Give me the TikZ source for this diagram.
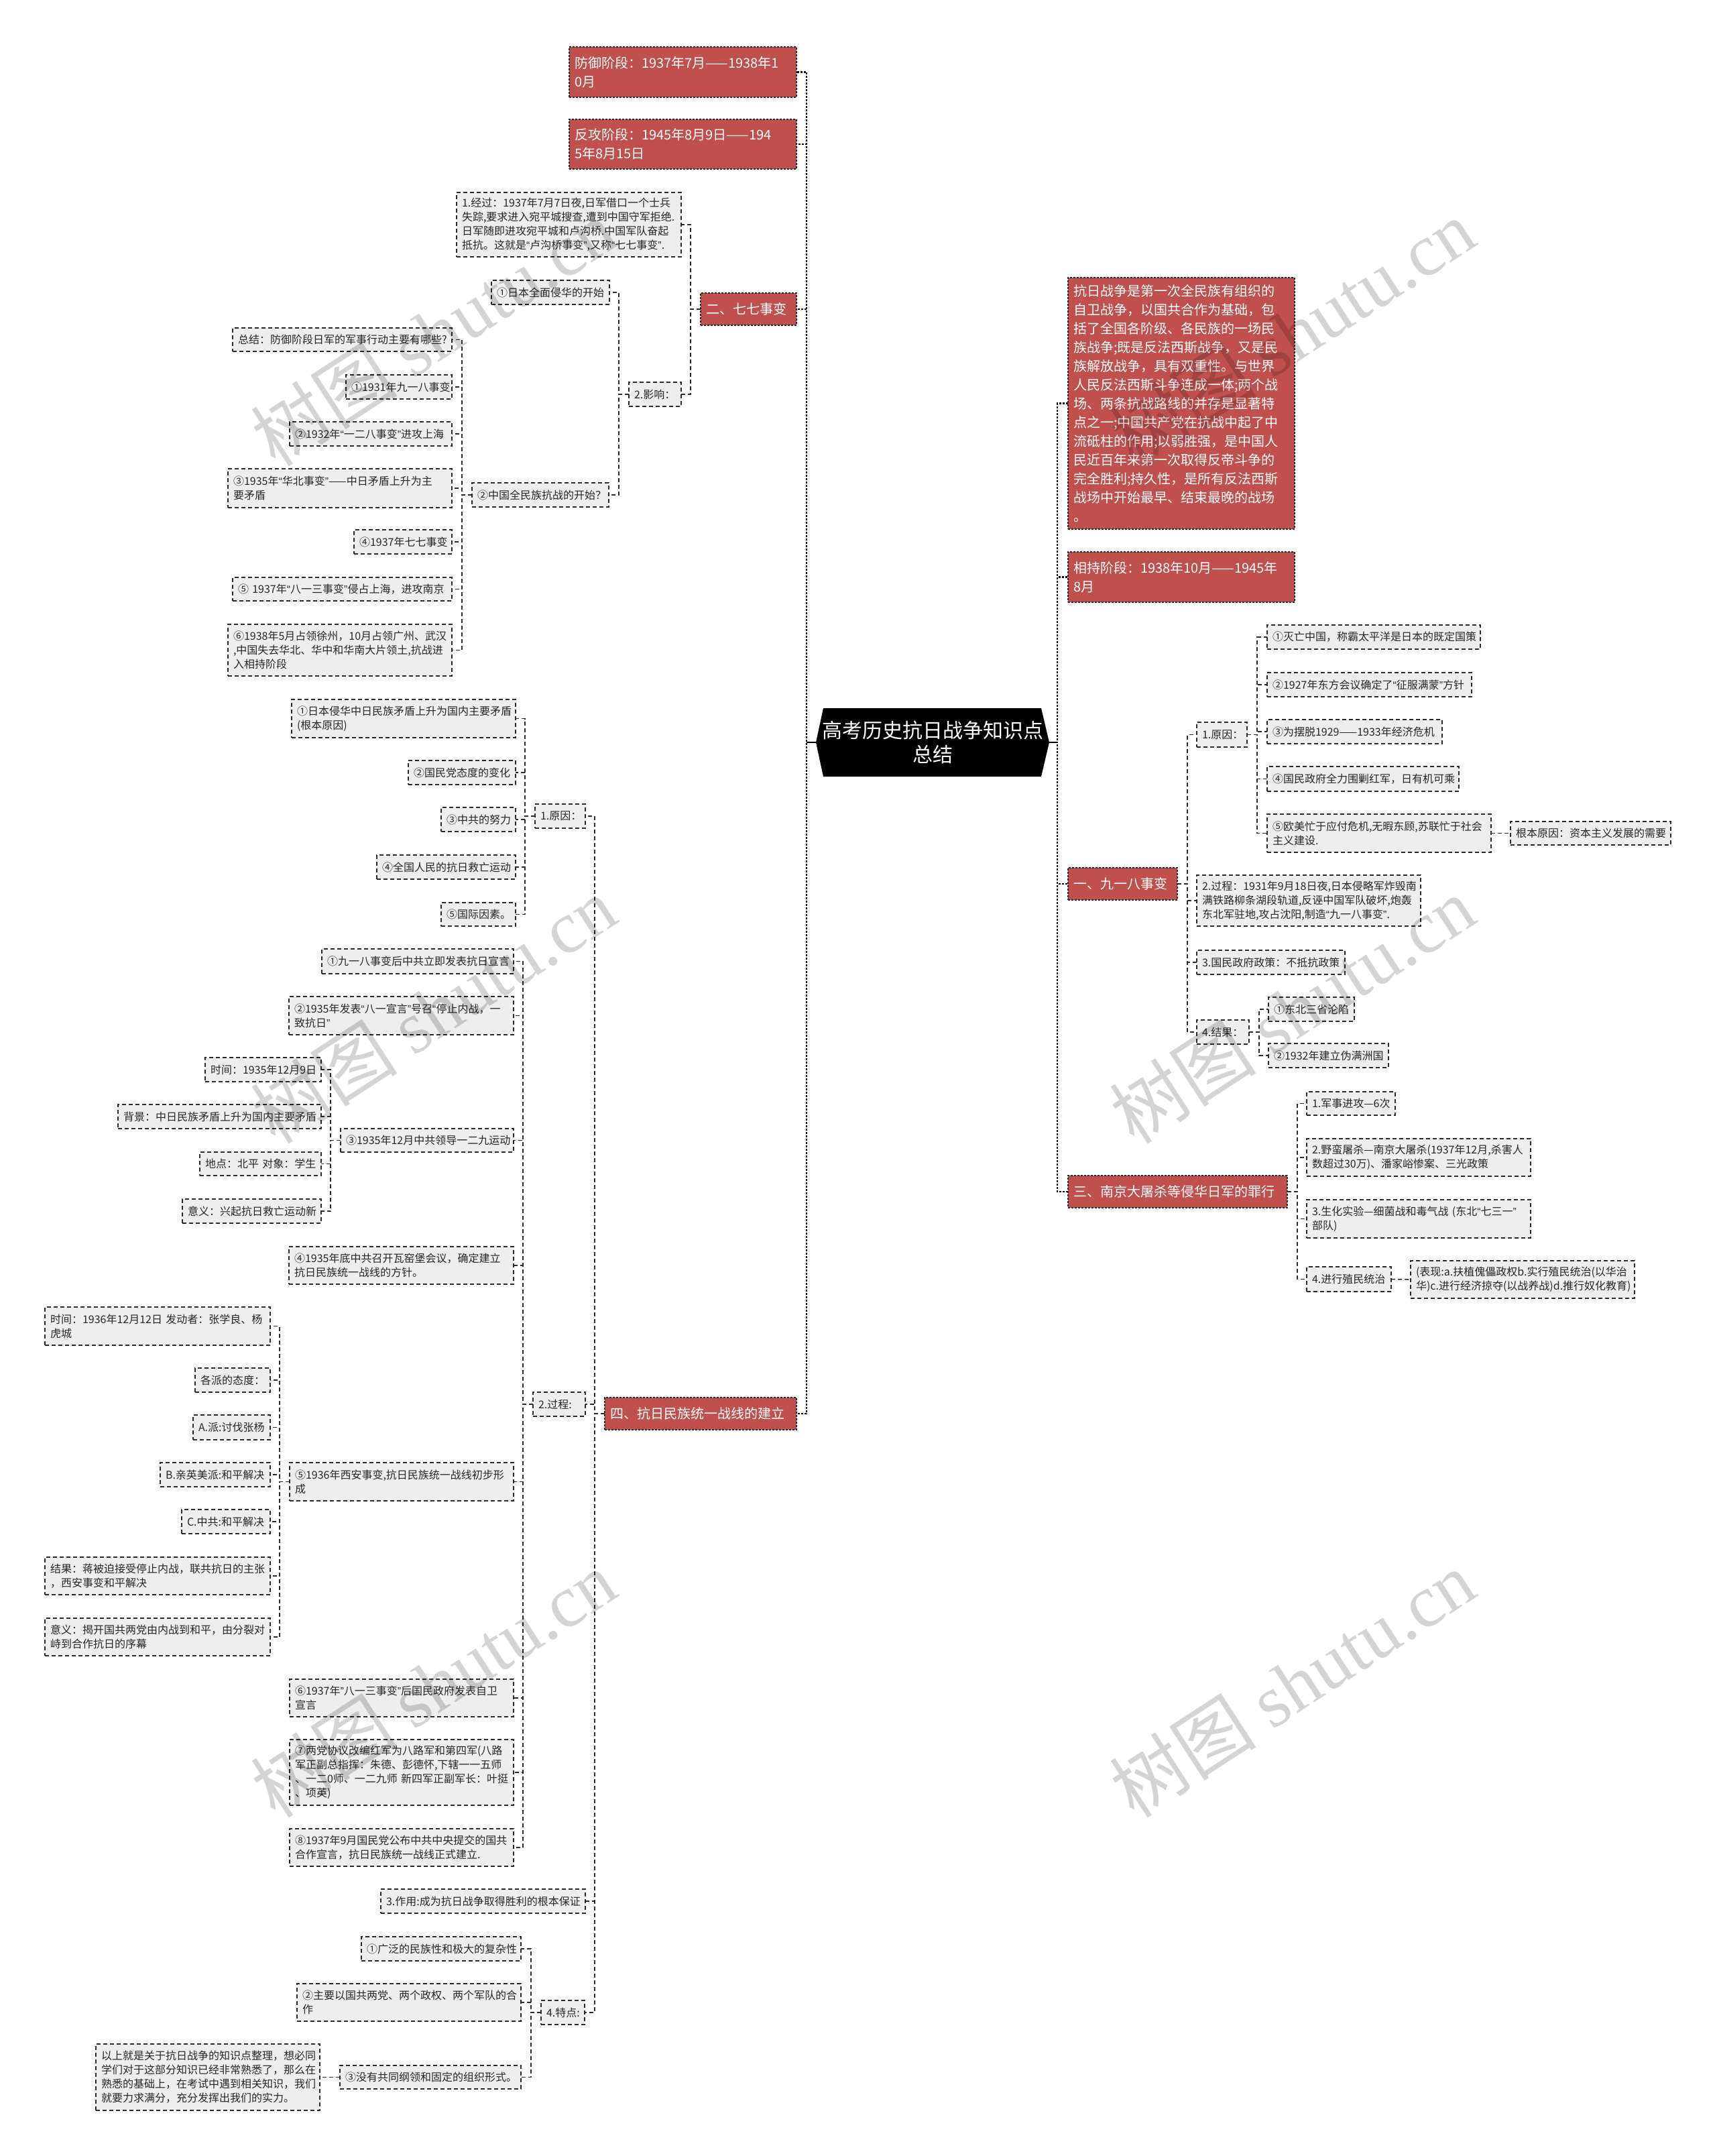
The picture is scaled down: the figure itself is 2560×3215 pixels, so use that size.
\documentclass[tikz,border=0pt]{standalone}
\usepackage{fontspec}
\setmainfont{Noto Sans CJK SC}
\newfontfamily\wmserif{Liberation Serif}
\newfontfamily\qfont{Liberation Sans}
\newcommand\myoq{{\qfont “}}
\newcommand\mycq{{\qfont ”}}
\XeTeXdashbreakstate=0
\usetikzlibrary{backgrounds}
\definecolor{redfill}{HTML}{C0504D}
\definecolor{grayfill}{HTML}{EEEEEE}
\definecolor{linec}{HTML}{2B2B2B}
\newcommand\myBox[7]{%
  \pgfmathsetmacro\bw{#5-#3}%
  \pgfmathsetmacro\bh{#6-#4}%
  \pgfmathsetmacro\bcx{(#3+#5)/2}%
  \pgfmathsetmacro\bcy{(#4+#6)/2}%
  \pgfmathsetmacro\btw{#5-#3-16}%
  \node[#1, minimum width=\bw pt, minimum height=\bh pt, text width=\btw pt] (#2) at (\bcx,\bcy) {#7};}
\newcommand\Lc[2]{\draw[conn] (#1.west) -- ++(-15,0) |- (#2.east);}
\newcommand\Rc[2]{\draw[conn] (#1.east) -- ++(15,0) |- (#2.west);}
\tikzset{
  gbox/.style={draw=linec, fill=grayfill, line width=1.6pt, dash pattern=on 6pt off 4pt,
    inner xsep=8pt, inner ysep=2pt, outer sep=0pt, align=left,
    font=\fontsize{16}{21}\selectfont, text=black!85,
    execute at begin node={\hyphenpenalty=10000\exhyphenpenalty=10000}},
  rbox/.style={draw=linec, fill=redfill, line width=1.4pt, dash pattern=on 3pt off 2pt,
    inner xsep=8pt, inner ysep=2pt, outer sep=0pt, align=left,
    font=\fontsize{20}{28}\selectfont, text=white,
    execute at begin node={\hyphenpenalty=10000\exhyphenpenalty=10000}},
  rootst/.style={inner sep=0pt, outer sep=0pt, align=center, text=white,
    font=\fontsize{30}{36}\selectfont},
  conn/.style={draw=linec, line width=1.6pt, dash pattern=on 6pt off 4pt},
  trunk/.style={draw=black, line width=2.4pt, dash pattern=on 3pt off 2pt},
  wm/.style={rotate=33, text=black, text opacity=0.17, inner sep=0pt,
    font=\fontsize{110}{110}\selectfont},
}
\begin{document}
\begin{tikzpicture}[x=1pt,y=-1pt]
\begin{scope}[on background layer]
\fill[white] (0,0) rectangle (2560,3215);
\end{scope}
\useasboundingbox (0,0) rectangle (2560,3215);

% root
\node[rootst, minimum width=348pt, minimum height=102pt] (root) at (1391,1107) {高考历史抗日战争知识点\\总结};
\begin{scope}[on background layer]
\fill[black] (root.west) -- ([xshift=11pt]root.north west) -- ([xshift=-12pt]root.north east) -- (root.east) -- ([xshift=-12pt]root.south east) -- ([xshift=11pt]root.south west) -- cycle;
\end{scope}

% left red
\myBox{rbox}{fy}{849}{70}{1188}{145}{防御阶段：1937年7月——1938年1\\0月}
\myBox{rbox}{fg}{849}{178}{1188}{252}{反攻阶段：1945年8月9日——194\\5年8月15日}
\myBox{rbox}{qq}{1045}{437}{1188}{485}{二、七七事变}
\myBox{rbox}{si}{902}{2084}{1188}{2132}{四、抗日民族统一战线的建立}

% right red
\myBox{rbox}{kr}{1593}{414}{1931}{789}{抗日战争是第一次全民族有组织的\\自卫战争，以国共合作为基础，包\\括了全国各阶级、各民族的一场民\\族战争;既是反法西斯战争，又是民\\族解放战争，具有双重性。与世界\\人民反法西斯斗争连成一体;两个战\\场、两条抗战路线的并存是显著特\\点之一;中国共产党在抗战中起了中\\流砥柱的作用;以弱胜强，是中国人\\民近百年来第一次取得反帝斗争的\\完全胜利;持久性，是所有反法西斯\\战场中开始最早、结束最晚的战场\\。}
\myBox{rbox}{xc}{1593}{823}{1931}{898}{相持阶段：1938年10月——1945年\\8月}
\myBox{rbox}{yi}{1593}{1294}{1756}{1342}{一、九一八事变}
\myBox{rbox}{sn}{1593}{1753}{1920}{1801}{三、南京大屠杀等侵华日军的罪行}

% trunks
\draw[trunk] (root.west) -- ++(-14,0) |- (fy.east);
\draw[trunk] (root.west) -- ++(-14,0) |- (fg.east);
\draw[trunk] (root.west) -- ++(-14,0) |- (qq.east);
\draw[trunk] (root.west) -- ++(-14,0) |- (si.east);
\draw[trunk] (root.east) -- ++(12,0) |- (kr.west);
\draw[trunk] (root.east) -- ++(12,0) |- (xc.west);
\draw[trunk] (root.east) -- ++(12,0) |- (yi.west);
\draw[trunk] (root.east) -- ++(12,0) |- (sn.west);
\draw[line width=2.4pt] (root.west) -- ++(-14,0);
\draw[line width=2.4pt] (root.east) -- ++(12,0);

% 七七事变 subtree
\myBox{gbox}{jg}{681}{287}{1016}{383}{1.经过：1937年7月7日夜,日军借口一个士兵\\失踪,要求进入宛平城搜查,遭到中国守军拒绝.\\日军随即进攻宛平城和卢沟桥.中国军队奋起\\抵抗。这就是\myoq 卢沟桥事变\mycq,又称\myoq 七七事变\mycq.}
\myBox{gbox}{yx}{938}{570}{1016}{606}{2.影响：}
\myBox{gbox}{q1}{733}{418}{909}{454}{①日本全面侵华的开始}
\myBox{gbox}{q2}{704}{720}{908}{756}{②中国全民族抗战的开始？}
\myBox{gbox}{zj}{347}{489}{674}{524}{总结：防御阶段日军的军事行动主要有哪些?}
\myBox{gbox}{a1}{516}{559}{674}{595}{①1931年九一八事变}
\myBox{gbox}{a2}{432}{629}{674}{665}{②1932年\myoq 一二八事变\mycq 进攻上海}
\myBox{gbox}{a3}{340}{699}{674}{757}{③1935年\myoq 华北事变\mycq——中日矛盾上升为主\\要矛盾}
\myBox{gbox}{a4}{528}{790}{674}{826}{④1937年七七事变}
\myBox{gbox}{a5}{347}{861}{674}{896}{⑤~1937年\myoq 八一三事变\mycq 侵占上海，进攻南京}
\myBox{gbox}{a6}{340}{931}{674}{1008}{⑥1938年5月占领徐州，10月占领广州、武汉\\,中国失去华北、华中和华南大片领土,抗战进\\入相持阶段}
\Lc{qq}{jg} \Lc{qq}{yx}
\Lc{yx}{q1} \Lc{yx}{q2}
\Lc{q2}{zj} \Lc{q2}{a1} \Lc{q2}{a2} \Lc{q2}{a3} \Lc{q2}{a4} \Lc{q2}{a5} \Lc{q2}{a6}

% 四 subtree
\myBox{gbox}{y1}{798}{1199}{873}{1235}{1.原因：}
\myBox{gbox}{g2}{795}{2076}{873}{2112}{2.过程:}
\myBox{gbox}{g3}{568}{2817}{873}{2853}{3.作用:成为抗日战争取得胜利的根本保证}
\myBox{gbox}{g4}{807}{2983}{872}{3019}{4.特点:}
\Lc{si}{y1} \Lc{si}{g2} \Lc{si}{g3} \Lc{si}{g4}

\myBox{gbox}{r1}{435}{1043}{769}{1100}{①日本侵华中日民族矛盾上升为国内主要矛盾\\(根本原因)}
\myBox{gbox}{r2}{609}{1134}{769}{1170}{②国民党态度的变化}
\myBox{gbox}{r3}{658}{1204}{769}{1240}{③中共的努力}
\myBox{gbox}{r4}{562}{1275}{769}{1311}{④全国人民的抗日救亡运动}
\myBox{gbox}{r5}{658}{1346}{769}{1381}{⑤国际因素。}
\Lc{y1}{r1} \Lc{y1}{r2} \Lc{y1}{r3} \Lc{y1}{r4} \Lc{y1}{r5}

\myBox{gbox}{p1}{480}{1415}{766}{1452}{①九一八事变后中共立即发表抗日宣言}
\myBox{gbox}{p2}{431}{1486}{766}{1543}{②1935年发表\myoq 八一宣言\mycq 号召\myoq 停止内战，一\\致抗日\mycq}
\myBox{gbox}{p3}{508}{1683}{766}{1718}{③1935年12月中共领导一二九运动}
\myBox{gbox}{p4}{431}{1859}{766}{1915}{④1935年底中共召开瓦窑堡会议，确定建立\\抗日民族统一战线的方针。}
\myBox{gbox}{p5}{432}{2181}{766}{2238}{⑤1936年西安事变,抗日民族统一战线初步形\\成}
\myBox{gbox}{p6}{432}{2504}{766}{2560}{⑥1937年\mycq 八一三事变\mycq 后国民政府发表自卫\\宣言}
\myBox{gbox}{p7}{432}{2594}{766}{2692}{⑦两党协议改编红军为八路军和第四军(八路\\军正副总指挥：朱德、彭德怀,下辖一一五师\\、一二0师、一二九师~新四军正副军长：叶挺\\、项英)}
\myBox{gbox}{p8}{432}{2727}{766}{2783}{⑧1937年9月国民党公布中共中央提交的国共\\合作宣言，抗日民族统一战线正式建立.}
\Lc{g2}{p1} \Lc{g2}{p2} \Lc{g2}{p3} \Lc{g2}{p4} \Lc{g2}{p5} \Lc{g2}{p6} \Lc{g2}{p7} \Lc{g2}{p8}

\myBox{gbox}{t1}{306}{1577}{479}{1613}{时间：1935年12月9日}
\myBox{gbox}{t2}{176}{1647}{479}{1683}{背景：中日民族矛盾上升为国内主要矛盾}
\myBox{gbox}{t3}{298}{1718}{479}{1753}{地点：北平~对象：学生}
\myBox{gbox}{t4}{272}{1788}{479}{1824}{意义：兴起抗日救亡运动新}
\Lc{p3}{t1} \Lc{p3}{t2} \Lc{p3}{t3} \Lc{p3}{t4}

\myBox{gbox}{x1}{67}{1949}{403}{2006}{时间：1936年12月12日~发动者：张学良、杨\\虎城}
\myBox{gbox}{x2}{291}{2040}{403}{2076}{各派的态度：}
\myBox{gbox}{x3}{288}{2110}{403}{2147}{A.派:讨伐张杨}
\myBox{gbox}{x4}{239}{2181}{403}{2217}{B.亲英美派:和平解决}
\myBox{gbox}{x5}{271}{2251}{403}{2287}{C.中共:和平解决}
\myBox{gbox}{x6}{67}{2322}{403}{2378}{结果：蒋被迫接受停止内战，联共抗日的主张\\，西安事变和平解决}
\myBox{gbox}{x7}{67}{2413}{403}{2469}{意义：揭开国共两党由内战到和平，由分裂对\\峙到合作抗日的序幕}
\Lc{p5}{x1} \Lc{p5}{x2} \Lc{p5}{x3} \Lc{p5}{x4} \Lc{p5}{x5} \Lc{p5}{x6} \Lc{p5}{x7}

\myBox{gbox}{f1}{539}{2888}{777}{2924}{①广泛的民族性和极大的复杂性}
\myBox{gbox}{f2}{443}{2958}{777}{3014}{②主要以国共两党、两个政权、两个军队的合\\作}
\myBox{gbox}{f3}{507}{3080}{777}{3115}{③没有共同纲领和固定的组织形式。}
\myBox{gbox}{f4}{143}{3048}{477}{3147}{以上就是关于抗日战争的知识点整理，想必同\\学们对于这部分知识已经非常熟悉了，那么在\\熟悉的基础上，在考试中遇到相关知识，我们\\就要力求满分，充分发挥出我们的实力。}
\Lc{g4}{f1} \Lc{g4}{f2} \Lc{g4}{f3}
\draw[conn] (f3.west) -- (f4.east);

% 一 subtree
\myBox{gbox}{n1}{1785}{1077}{1860}{1114}{1.原因：}
\myBox{gbox}{n2}{1785}{1305}{2119}{1381}{2.过程：1931年9月18日夜,日本侵略军炸毁南\\满铁路柳条湖段轨道,反诬中国军队破坏,炮轰\\东北军驻地,攻占沈阳,制造\myoq 九一八事变\mycq.}
\myBox{gbox}{n3}{1785}{1417}{2006}{1453}{3.国民政府政策：不抵抗政策}
\myBox{gbox}{n4}{1785}{1521}{1863}{1557}{4.结果：}
\Rc{yi}{n1} \Rc{yi}{n2} \Rc{yi}{n3} \Rc{yi}{n4}

\myBox{gbox}{m1}{1890}{932}{2208}{968}{①灭亡中国，称霸太平洋是日本的既定国策}
\myBox{gbox}{m2}{1890}{1003}{2195}{1039}{②1927年东方会议确定了\myoq 征服满蒙\mycq 方针}
\myBox{gbox}{m3}{1890}{1073}{2151}{1109}{③为摆脱1929——1933年经济危机}
\myBox{gbox}{m4}{1890}{1143}{2176}{1180}{④国民政府全力围剿红军，日有机可乘}
\myBox{gbox}{m5}{1890}{1214}{2224}{1271}{⑤欧美忙于应付危机,无暇东顾,苏联忙于社会\\主义建设.}
\myBox{gbox}{m6}{2253}{1225}{2492}{1260}{根本原因：资本主义发展的需要}
\Rc{n1}{m1} \Rc{n1}{m2} \Rc{n1}{m3} \Rc{n1}{m4} \Rc{n1}{m5}
\draw[conn] (m5.east) -- (m6.west);

\myBox{gbox}{k1}{1892}{1487}{2020}{1523}{①东北三省沦陷}
\myBox{gbox}{k2}{1892}{1556}{2071}{1592}{②1932年建立伪满洲国}
\Rc{n4}{k1} \Rc{n4}{k2}

% 三 subtree
\myBox{gbox}{s1}{1949}{1628}{2081}{1663}{1.军事进攻—6次}
\myBox{gbox}{s2}{1949}{1698}{2283}{1754}{2.野蛮屠杀—南京大屠杀(1937年12月,杀害人\\数超过30万)、潘家峪惨案、三光政策}
\myBox{gbox}{s3}{1949}{1789}{2283}{1846}{3.生化实验—细菌战和毒气战~(东北\myoq 七三一\mycq\\部队)}
\myBox{gbox}{s4}{1949}{1889}{2075}{1926}{4.进行殖民统治}
\myBox{gbox}{s5}{2104}{1880}{2438}{1936}{(表现:a.扶植傀儡政权b.实行殖民统治(以华治\\华)c.进行经济掠夺(以战养战)d.推行奴化教育)}
\Rc{sn}{s1} \Rc{sn}{s2} \Rc{sn}{s3} \Rc{sn}{s4}
\draw[conn] (s4.east) -- (s5.west);

% watermarks
\node[wm] (wm1) at (646,496) {树图\hspace{25pt}{\wmserif shutu.cn}};
\node[wm] (wm2) at (1927,496) {树图\hspace{25pt}{\wmserif shutu.cn}};
\node[wm] (wm3) at (646,1506) {树图\hspace{25pt}{\wmserif shutu.cn}};
\node[wm] (wm4) at (1927,1506) {树图\hspace{25pt}{\wmserif shutu.cn}};
\node[wm] (wm5) at (646,2511) {树图\hspace{25pt}{\wmserif shutu.cn}};
\node[wm] (wm6) at (1927,2511) {树图\hspace{25pt}{\wmserif shutu.cn}};
\end{tikzpicture}
\end{document}
